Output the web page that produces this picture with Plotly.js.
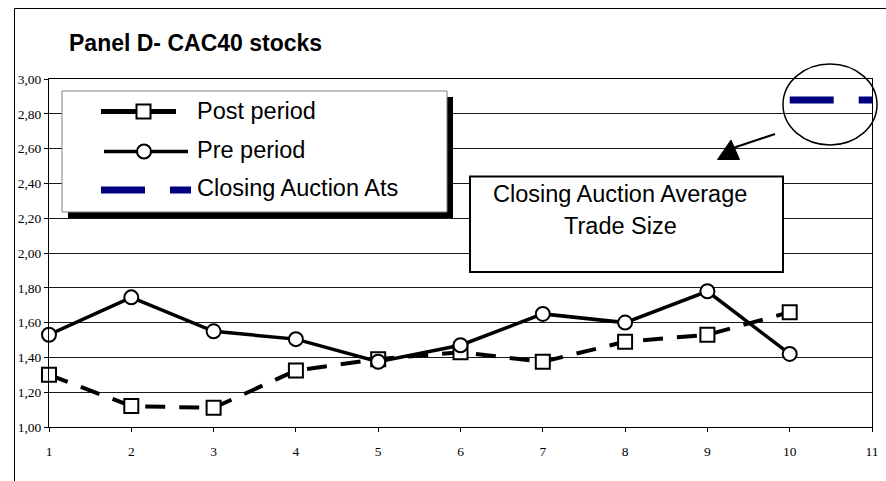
<!DOCTYPE html>
<html>
<head>
<meta charset="utf-8">
<script src="https://cdn.plot.ly/plotly-3.0.1.min.js"></script>
<style>html,body{margin:0;padding:0;background:#fff;}#chart{width:886px;height:481px;}</style>
</head>
<body>
<div id="chart"></div>
<script>
// ---- data ----
const xValues = [1, 2, 3, 4, 5, 6, 7, 8, 9, 10];
const postPeriod = [1.30, 1.12, 1.11, 1.325, 1.39, 1.43, 1.375, 1.49, 1.53, 1.66];
const prePeriod = [1.53, 1.745, 1.55, 1.505, 1.375, 1.47, 1.65, 1.60, 1.78, 1.42];
const closingAtsX = [10, 11];
const closingAts = [2.88, 2.88];
const yTickValues = [1.0, 1.2, 1.4, 1.6, 1.8, 2.0, 2.2, 2.4, 2.6, 2.8, 3.0];
const yTickLabels = ["1,00", "1,20", "1,40", "1,60", "1,80", "2,00", "2,20", "2,40", "2,60", "2,80", "3,00"];
const xTickValues = [1, 2, 3, 4, 5, 6, 7, 8, 9, 10, 11];
const xTickLabels = ["1", "2", "3", "4", "5", "6", "7", "8", "9", "10", "11"];
const seriesNames = ["Post period", "Pre period", "Closing Auction Ats"];
const chartTitle = "Panel D- CAC40 stocks";
const boxText = ["Closing Auction Average", "Trade Size"];

// ---- geometry helpers (pixel -> paper) ----
const W = 886, H = 481;
const L = 49, R = 872, T = 79, B = 427;
const px = x => (x - L) / (R - L);
const py = y => (B - y) / (B - T);

const sans = "Liberation Sans, Arial, sans-serif";
const serif = "Liberation Serif, Times New Roman, serif";

const traces = [
  {
    x: xValues, y: postPeriod, name: seriesNames[0], type: "scatter", mode: "lines+markers",
    line: {color: "#000", width: 4, dash: "20px,14px"},
    marker: {symbol: "square", size: 14, color: "#fff", line: {color: "#000", width: 2}},
    cliponaxis: false
  },
  {
    x: xValues, y: prePeriod, name: seriesNames[1], type: "scatter", mode: "lines+markers",
    line: {color: "#000", width: 3.5},
    marker: {symbol: "circle", size: 14, color: "#fff", line: {color: "#000", width: 2}},
    cliponaxis: false
  },
  {
    x: closingAtsX, y: closingAts, name: seriesNames[2], type: "scatter", mode: "lines",
    line: {color: "#000080", width: 7, dash: "44px,25px"}
  }
];

const shapes = [
  // outer frame
  {type: "rect", xref: "paper", yref: "paper", x0: px(14.5), x1: px(895), y0: py(8.5), y1: py(495),
   line: {color: "#000", width: 1}, fillcolor: "rgba(0,0,0,0)", layer: "below"},
  // legend shadow
  {type: "rect", xref: "paper", yref: "paper", x0: px(68), x1: px(453), y0: py(97), y1: py(218),
   line: {width: 0}, fillcolor: "#000", layer: "above"},
  // legend box
  {type: "rect", xref: "paper", yref: "paper", x0: px(62), x1: px(447), y0: py(91), y1: py(212),
   line: {color: "#808080", width: 1}, fillcolor: "#fff", layer: "above"},
  // legend symbol: post period
  {type: "line", xref: "paper", yref: "paper", x0: px(101), x1: px(136), y0: py(111.5), y1: py(111.5),
   line: {color: "#000", width: 5}},
  {type: "line", xref: "paper", yref: "paper", x0: px(151), x1: px(176), y0: py(111.5), y1: py(111.5),
   line: {color: "#000", width: 5}},
  {type: "rect", xref: "paper", yref: "paper", x0: px(136.5), x1: px(150.5), y0: py(104.5), y1: py(118.5),
   line: {color: "#000", width: 2}, fillcolor: "#fff"},
  // legend symbol: pre period
  {type: "line", xref: "paper", yref: "paper", x0: px(104), x1: px(188), y0: py(151.5), y1: py(151.5),
   line: {color: "#000", width: 3.5}},
  {type: "circle", xref: "paper", yref: "paper", x0: px(137), x1: px(151), y0: py(144.5), y1: py(158.5),
   line: {color: "#000", width: 2}, fillcolor: "#fff"},
  // legend symbol: closing auction ats
  {type: "line", xref: "paper", yref: "paper", x0: px(101), x1: px(145), y0: py(190), y1: py(190),
   line: {color: "#000080", width: 7}},
  {type: "line", xref: "paper", yref: "paper", x0: px(170), x1: px(191), y0: py(190), y1: py(190),
   line: {color: "#000080", width: 7}},
  // annotation text box
  {type: "rect", xref: "paper", yref: "paper", x0: px(470), x1: px(783), y0: py(176.5), y1: py(272),
   line: {color: "#000", width: 2}, fillcolor: "#fff", layer: "above"},
  // ellipse
  {type: "circle", xref: "paper", yref: "paper", x0: px(783), x1: px(877), y0: py(64), y1: py(145),
   line: {color: "#000", width: 1.5}, fillcolor: "rgba(0,0,0,0)", layer: "above"},
  // arrow line
  {type: "line", xref: "paper", yref: "paper", x0: px(775), x1: px(733), y0: py(134), y1: py(148),
   line: {color: "#000", width: 2}},
  // arrow head
  {type: "path", xref: "paper", yref: "paper",
   path: `M ${px(731)} ${py(140)} L ${px(717.5)} ${py(159.5)} L ${px(739.5)} ${py(159.5)} Z`,
   line: {color: "#000", width: 1}, fillcolor: "#000"}
];

const annotations = [
  {xref: "paper", yref: "paper", x: px(195), y: py(111), xanchor: "left", yanchor: "middle",
   text: seriesNames[0], showarrow: false, font: {family: sans, size: 23.5, color: "#000"}},
  {xref: "paper", yref: "paper", x: px(195), y: py(150), xanchor: "left", yanchor: "middle",
   text: seriesNames[1], showarrow: false, font: {family: sans, size: 23.5, color: "#000"}},
  {xref: "paper", yref: "paper", x: px(195), y: py(188), xanchor: "left", yanchor: "middle",
   text: seriesNames[2], showarrow: false, font: {family: sans, size: 23.5, color: "#000"}},
  {xref: "paper", yref: "paper", x: px(620), y: py(194), xanchor: "center", yanchor: "middle",
   text: boxText[0], showarrow: false, font: {family: sans, size: 23.5, color: "#000"}},
  {xref: "paper", yref: "paper", x: px(620), y: py(226), xanchor: "center", yanchor: "middle",
   text: boxText[1], showarrow: false, font: {family: sans, size: 23.5, color: "#000"}}
];

const layout = {
  width: W, height: H, autosize: false,
  margin: {l: L, r: W - R, t: T, b: H - B, pad: 0},
  paper_bgcolor: "#fff", plot_bgcolor: "#fff",
  showlegend: false,
  title: {text: "<b>" + chartTitle + "</b>", xref: "container", yref: "container",
          x: 69 / W, xanchor: "left", y: 1 - 43 / H, yanchor: "middle",
          font: {family: sans, size: 23, color: "#000"}},
  xaxis: {
    range: [1, 11], tickmode: "array", tickvals: xTickValues, ticktext: xTickLabels,
    showgrid: false, zeroline: false, showline: true, linecolor: "#000", linewidth: 1, mirror: true,
    ticks: "outside", ticklen: 4, tickcolor: "#000", tickwidth: 1, ticklabelstandoff: 8,
    tickfont: {family: serif, size: 13.5, color: "#000"}, fixedrange: true
  },
  yaxis: {
    range: [1, 3], tickmode: "array", tickvals: yTickValues, ticktext: yTickLabels,
    showgrid: true, gridcolor: "#1a1a1a", gridwidth: 1, zeroline: false,
    showline: true, linecolor: "#000", linewidth: 1, mirror: true,
    ticks: "outside", ticklen: 4, tickcolor: "#000", tickwidth: 1,
    tickfont: {family: serif, size: 13.5, color: "#000"}, fixedrange: true
  },
  shapes: shapes,
  annotations: annotations
};

Plotly.newPlot("chart", traces, layout, {displayModeBar: false, staticPlot: true});
</script>
</body>
</html>
